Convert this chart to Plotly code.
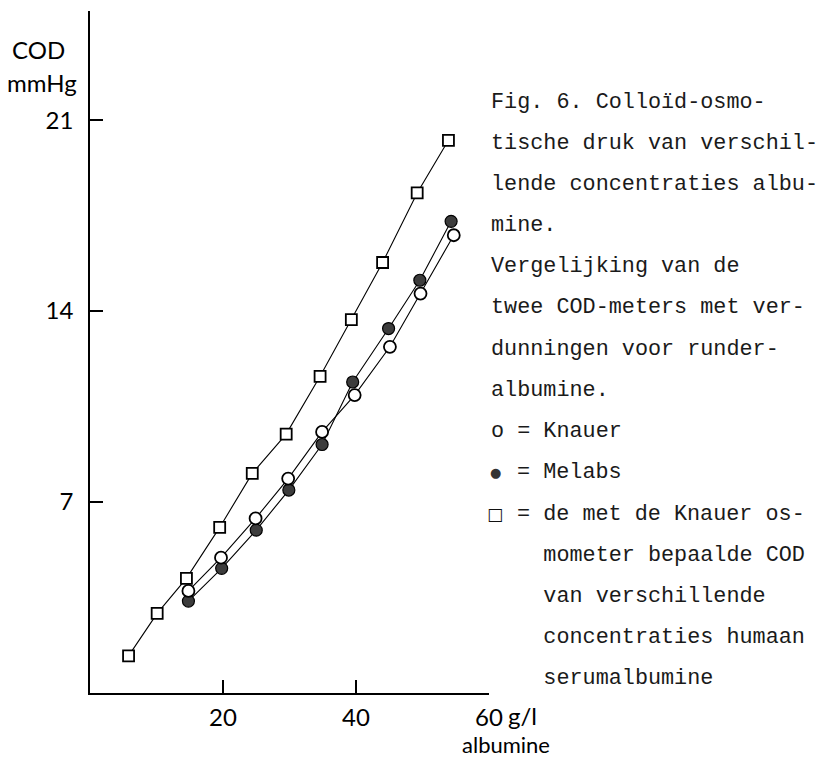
import plotly.graph_objects as go

# Albumine concentration (g/l) and colloid-osmotic pressure (mmHg)
knauer_x = [14.8, 19.7, 24.9, 29.8, 34.9, 39.8, 45.1, 49.7, 54.7]
knauer_y = [3.74, 4.96, 6.40, 7.86, 9.57, 10.92, 12.69, 14.64, 16.78]

melabs_x = [14.8, 19.8, 25.0, 29.9, 34.9, 39.5, 44.9, 49.6, 54.3]
melabs_y = [3.37, 4.57, 5.97, 7.44, 9.11, 11.40, 13.36, 15.13, 17.29]

humaan_x = [5.8, 10.1, 14.5, 19.5, 24.4, 29.5, 34.6, 39.3, 44.0, 49.2, 53.9]
humaan_y = [1.36, 2.92, 4.20, 6.07, 8.05, 9.49, 11.61, 13.69, 15.78, 18.33, 20.26]

x_ticks = [20, 40, 60]
y_ticks = [7, 14, 21]

caption_lines = [
    "Fig. 6. Colloïd-osmo-",
    "tische druk van verschil-",
    "lende concentraties albu-",
    "mine.",
    "Vergelijking van de",
    "twee COD-meters met ver-",
    "dunningen voor runder-",
    "albumine.",
    "o = Knauer",
    "= Melabs",
    "= de met de Knauer os-",
    "    mometer bepaalde COD",
    "    van verschillende",
    "    concentraties humaan",
    "    serumalbumine",
]
# lines whose first two cells hold a drawn symbol instead of a letter
symbol_rows = {9: "●", 10: "□"}

W, H = 826, 760
ML, MR, MT, MB = 90, 337, 11, 67
PW, PH = W - ML - MR, H - MT - MB

def px(xp):
    return (xp - ML) / PW

def py(yp):
    return (H - MB - yp) / PH

fig = go.Figure()

line_style = dict(color="black", width=1.1)

fig.add_trace(go.Scatter(
    x=melabs_x, y=melabs_y, mode="lines+markers", name="Melabs",
    line=line_style,
    marker=dict(symbol="circle", size=12, color="#3c3c3c",
                line=dict(color="black", width=1.2)),
))
fig.add_trace(go.Scatter(
    x=knauer_x, y=knauer_y, mode="lines+markers", name="Knauer",
    line=line_style,
    marker=dict(symbol="circle", size=12, color="white",
                line=dict(color="black", width=1.8)),
))
fig.add_trace(go.Scatter(
    x=humaan_x, y=humaan_y, mode="lines+markers", name="humaan",
    line=line_style,
    marker=dict(symbol="square", size=11, color="white",
                line=dict(color="black", width=1.8)),
))

axis_font = dict(family="Lato", size=24, color="black")

fig.update_xaxes(
    range=[0, 60], tickvals=x_ticks, ticktext=[str(v) for v in x_ticks],
    ticks="inside", ticklen=13, tickwidth=1.5, tickcolor="black",
    showline=True, linecolor="black", linewidth=1.6,
    showgrid=False, zeroline=False, tickfont=axis_font,
    ticklabelstandoff=2,
)
fig.update_yaxes(
    range=[0, 25], tickvals=y_ticks, ticktext=[str(v) for v in y_ticks],
    ticks="inside", ticklen=13, tickwidth=1.5, tickcolor="black",
    showline=True, linecolor="black", linewidth=1.6,
    showgrid=False, zeroline=False, tickfont=axis_font,
    ticklabelstandoff=10,
)

ann = []
ann.append(dict(text="COD", x=px(38), y=py(50), xref="paper", yref="paper",
                showarrow=False, font=axis_font, xanchor="center", yanchor="middle"))
ann.append(dict(text="mmHg", x=px(42), y=py(82), xref="paper", yref="paper",
                showarrow=False, font=axis_font, xanchor="center", yanchor="middle"))
ann.append(dict(text="g/l", x=px(506), y=py(715), xref="paper", yref="paper",
                showarrow=False, font=axis_font, xanchor="left", yanchor="middle"))
ann.append(dict(text="albumine", x=px(506), y=py(760), xref="paper", yref="paper",
                showarrow=False, font=dict(family="Lato", size=22, color="black"),
                xanchor="center", yanchor="bottom"))

CAP_X0 = 489          # left edge of the caption column
CAP_PITCH = 13.1      # monospace cell width
CAP_Y0, CAP_STEP = 102, 41.2
cap_font = dict(family="Liberation Mono", size=21.8, color="#1a1a1a")

for i, line in enumerate(caption_lines):
    x0 = CAP_X0 + (2 * CAP_PITCH if i in symbol_rows else 0)
    ann.append(dict(text=line.replace(" ", "\u00a0"), x=px(x0), y=py(CAP_Y0 + CAP_STEP * i),
                    xref="paper", yref="paper", showarrow=False, font=cap_font,
                    xanchor="left", yanchor="middle", align="left"))

sym_fonts = {
    "●": dict(family="DejaVu Sans", size=13, color="#333333"),
    "□": dict(family="DejaVu Sans", size=17, color="#111111"),
}
for i, sym in symbol_rows.items():
    ann.append(dict(text=sym, x=px(CAP_X0 + 6), y=py(CAP_Y0 + CAP_STEP * i), xref="paper",
                    yref="paper", showarrow=False, font=sym_fonts[sym],
                    xanchor="center", yanchor="middle"))

fig.update_layout(
    width=W, height=H,
    margin=dict(l=ML, r=MR, t=MT, b=MB),
    paper_bgcolor="white", plot_bgcolor="white",
    showlegend=False, annotations=ann,
)

fig.write_html("out.html")
